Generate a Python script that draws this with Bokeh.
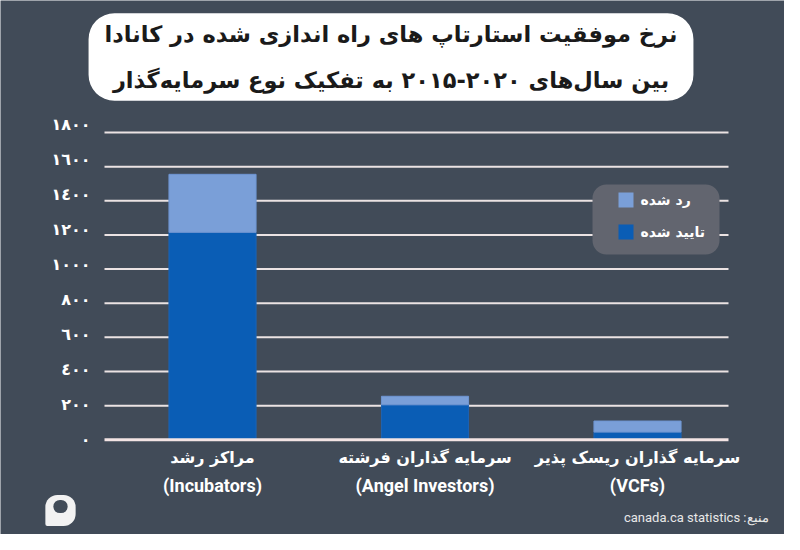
from bokeh.plotting import figure
from bokeh.models import ColumnDataSource, Range1d, Label
from bokeh.core.properties import value
from bokeh.embed import file_html
from bokeh.resources import INLINE

# ---------------- data ----------------
categories_fa = ["مراکز رشد", "سرمایه گذاران فرشته", "سرمایه گذاران ریسک پذیر"]
categories_en = ["(Incubators)", "(Angel Investors)", "(VCFs)"]
approved = [1215, 205, 45]
rejected = [340, 50, 65]
series_labels = ["تایید شده", "رد شده"]
y_ticks = [0, 200, 400, 600, 800, 1000, 1200, 1400, 1600, 1800]
y_tick_labels = ["٠", "٢٠٠", "٤٠٠", "٦٠٠", "٨٠٠", "١٠٠٠", "١٢٠٠", "١٤٠٠", "١٦٠٠", "١٨٠٠"]
title_lines = ["نرخ موفقیت استارتاپ های راه اندازی شده در کانادا",
               "بین سال‌های \u202a۲۰۱۵-۲۰۲۰\u202c به تفکیک نوع سرمایه‌گذار"]
source_text = "منبع: canada.ca statistics"

# ---------------- style ----------------
BG = "#414b58"
DARK = "#0a5db5"
LIGHT = "#7a9fd8"
GRID = "#ebe3e3"
FA = "DejaVu Sans"
EN = "Roboto"
RLE, PDF = "\u202b", "\u202c"

W, H = 784, 534
OFF = 8

# page-pixel <-> data mapping (frame covers whole canvas)
XS = 212.5            # px between category centres
X0_PAGE = 220.0       # page x of first category
K = 307.3 / 1800.0    # px per unit
Y0_PAGE = 447.3       # page y of value 0
K2 = 315.0 / 1800.0   # spacing of tick labels (slightly wider than grid)


def dx(page_x):
    return (page_x - X0_PAGE) / XS


def dy(page_y):
    return (Y0_PAGE - page_y) / K


p = figure(width=W, height=H, output_backend="svg", toolbar_location=None,
           x_range=Range1d(dx(OFF), dx(OFF + W)), y_range=Range1d(dy(OFF + H), dy(OFF)),
           x_axis_location=None, y_axis_location=None,
           background_fill_color=BG, border_fill_color=BG, outline_line_color=None,
           min_border=0)
p.grid.visible = False

# grid lines
grid_vals = y_ticks[1:]
p.segment(x0=[dx(112)] * len(grid_vals), x1=[dx(736)] * len(grid_vals),
          y0=grid_vals, y1=grid_vals, line_color=GRID, line_width=2)

# tick labels
label_pos = [dy(447.0 - v * K2) for v in y_ticks]
p.text(x=[dx(98)] * len(y_ticks), y=label_pos, text=y_tick_labels,
       text_align="right", text_baseline="middle", text_color="white",
       text_font=value(FA), text_font_size="16px", text_font_style="bold")

# bars
src = ColumnDataSource(dict(x=list(range(len(approved))), approved=approved, rejected=rejected))
p.vbar_stack(["approved", "rejected"], x="x", width=0.41, source=src,
             fill_color=[DARK, LIGHT], line_color=["#1c63b5", "#6e95d2"], line_width=1)

# baseline
p.segment(x0=[dx(112)], x1=[dx(736)], y0=[y_ticks[0]], y1=[y_ticks[0]],
          line_color="#f3e4e4", line_width=3)

# legend box
p.quad(left=[dx(600)], right=[dx(727)], top=[dy(192)], bottom=[dy(262)],
       fill_color="#62656f", line_color=None, border_radius=14)
p.quad(left=[dx(626)] * 2, right=[dx(641)] * 2, top=[dy(200), dy(232)],
       bottom=[dy(215), dy(247)], fill_color=[LIGHT, DARK], line_color=None)
for yy, txt in zip([207.5, 239.5], [series_labels[1], series_labels[0]]):
    p.add_layout(Label(x=dx(648), y=dy(yy), text=txt, text_align="left",
                       text_baseline="middle", text_color="white",
                       text_font=FA, text_font_size="14px", text_font_style="bold"))

# title
p.add_layout(Label(x=dx(398.5), y=dy(64.5),
                   text="\n".join(RLE + line + PDF for line in title_lines),
                   text_align="center", text_baseline="middle",
                   text_color="#1a1a1a", text_font=FA, text_font_size="22.5px",
                   text_font_style="bold", text_line_height=1.75,
                   background_fill_color="white", border_radius=26,
                   padding=dict(left=16, right=16, top=8, bottom=8)))

# category labels
for i in range(len(categories_fa)):
    p.add_layout(Label(x=i, y=dy(465), text=categories_fa[i], text_align="center",
                       text_baseline="middle", text_color="white",
                       text_font=FA, text_font_size="16px", text_font_style="bold"))
    p.add_layout(Label(x=i, y=dy(493), text=categories_en[i], text_align="center",
                       text_baseline="middle", text_color="white",
                       text_font=EN, text_font_size="18px", text_font_style="bold"))

# source
p.add_layout(Label(x=dx(776), y=dy(525), text=RLE + source_text + PDF,
                   text_align="right", text_baseline="middle", text_color="#e8e8e8",
                   text_font=EN, text_font_size="13px"))

# logo
p.add_layout(Label(x=dx(68), y=dy(518), text=" ", text_font_size="1px",
                   text_align="center", text_baseline="middle",
                   background_fill_color="#f2f2f2", border_radius=(12, 12, 12, 2),
                   padding=15))
p.add_layout(Label(x=dx(68), y=dy(514), text=" ", text_font_size="1px",
                   text_align="center", text_baseline="middle",
                   background_fill_color=BG, border_radius=7,
                   padding=dict(left=7, right=7, top=6, bottom=6)))

open("out.html", "w").write(file_html(p, INLINE))
